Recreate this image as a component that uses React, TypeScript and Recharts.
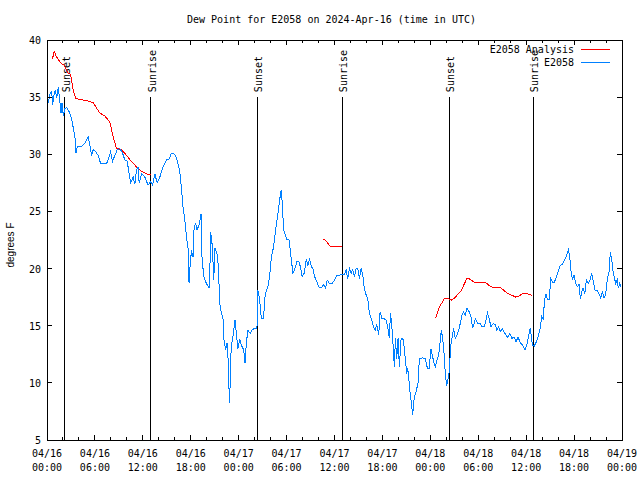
import React from 'react';
import { LineChart, Line, XAxis, YAxis, ReferenceLine, ReferenceArea, Legend } from 'recharts';

const MONO = '"DejaVu Sans Mono", monospace';
const PLOT_W = 575;
const PLOT_H = 400;

// hours since 2024-04-16 00:00 UTC
const xTickHours = [0, 2, 4, 6, 8, 10, 12, 14, 16, 18, 20, 22, 24, 26, 28, 30, 32, 34, 36, 38, 40, 42, 44, 46, 48, 50, 52, 54, 56, 58, 60, 62, 64, 66, 68, 70, 72];
const xTickDates = ['04/16', '04/16', '04/16', '04/16', '04/17', '04/17', '04/17', '04/17', '04/18', '04/18', '04/18', '04/18', '04/19'];
const xTickTimes = ['00:00', '06:00', '12:00', '18:00', '00:00', '06:00', '12:00', '18:00', '00:00', '06:00', '12:00', '18:00', '00:00'];
const yTicks = [5, 10, 15, 20, 25, 30, 35, 40];

const sunLabels = ['Sunset', 'Sunrise', 'Sunset', 'Sunrise', 'Sunset', 'Sunrise'];
const sunHours = [2.25, 13.0, 26.3, 36.95, 50.35, 60.9];

const seriesNames = ['E2058 Analysis', 'E2058'];
const seriesColors = ['#ff0000', '#0080ff'];

const analysisHours = [
  0.66, 0.91, 1.125, 1.71, 2.125, 2.66, 2.96, 3.29, 3.59, 4.125, 4.96, 5.79, 6.625, 7.25, 7.875, 8.29, 8.71,
  9.34, 9.96, 10.59, 11.21, 11.84, 12.46, 12.875, 13.0,
  20,
  34.625, 34.96, 35.375, 35.59, 36.84, 37.0,
  42,
  48.66, 48.91, 49.125, 49.54, 49.75, 50.29, 50.66, 51.0, 51.84, 52.59, 52.875, 53.5, 54.96, 55.59, 56.84,
  57.54, 58.09, 58.71, 59.125, 59.54, 60.16, 60.79,
];
const analysisValues = [
  38.3, 39.0, 38.6, 38.0, 37.8, 37.1, 37.0, 35.6, 34.9, 34.8, 34.7, 34.5, 33.6, 33.35, 32.8, 31.5, 30.5,
  30.4, 29.9, 29.35, 28.9, 28.5, 28.3, 28.2, 28.2,
  null,
  22.6, 22.4, 22.0, 21.95, 21.95, 21.95,
  null,
  15.65, 16.2, 16.65, 17.1, 17.4, 17.35, 17.25, 17.4, 18.05, 19.15, 19.1, 18.8, 18.75, 18.4, 18.3,
  17.9, 17.7, 17.5, 17.6, 17.8, 17.8, 17.65,
];

const e2058Hours = [
  0.16, 0.375, 0.59, 0.71, 0.875, 1.04, 1.21, 1.41, 1.625, 1.75, 1.875, 2.04, 2.25, 2.46, 2.79, 3.09, 3.29, 3.5,
  3.625, 3.79, 4.34, 4.75, 5.16, 5.375, 5.59, 5.79, 6.125, 6.41, 6.71, 7.46, 7.66, 7.96, 8.21, 8.5, 8.79, 9.125,
  9.46, 9.75, 10.04, 10.29, 10.46, 10.79, 11.0, 11.21, 11.41, 11.54, 11.84, 12.25, 12.66, 12.96, 13.21, 13.5,
  13.79, 14.125, 14.54, 14.96, 15.29, 15.59, 16.0, 16.29, 16.625, 16.84, 17.04, 17.25, 17.46, 17.66, 17.79,
  17.875, 18.09, 18.29, 18.41, 18.59, 18.79, 19.04, 19.29, 19.41, 19.625, 19.96, 20.29, 20.375, 20.5, 20.71,
  20.875, 21.04, 21.29, 21.46, 21.625, 21.84, 22.04, 22.16, 22.375, 22.54, 22.71, 22.79, 22.875, 23.0, 23.16,
  23.375, 23.54, 23.71, 23.91, 24.125, 24.34, 24.625, 24.79, 24.96, 25.16, 25.46, 25.66, 26.0, 26.29, 26.41,
  26.625, 26.84, 27.125, 27.25, 27.46, 27.66, 27.875, 28.09, 28.375, 28.625, 28.91, 29.125, 29.34, 29.46,
  29.625, 29.875, 30.04, 30.29, 30.46, 30.625, 30.79, 31.0, 31.29, 31.54, 31.71, 31.96, 32.21, 32.46, 32.66,
  32.875, 33.09, 33.29, 33.5, 33.71, 34.04, 34.34, 34.625, 34.875, 35.09, 35.375, 35.71, 36.0, 36.29, 36.625,
  36.875, 37.25, 37.46, 37.66, 37.875, 38.09, 38.29, 38.5, 38.71, 38.91, 39.125, 39.34, 39.54, 39.75, 39.96,
  40.16, 40.29, 40.46, 40.66, 40.875, 41.09, 41.29, 41.54, 41.71, 41.96, 42.25, 42.46, 42.66, 42.875, 43.0,
  43.16, 43.29, 43.5, 43.625, 43.79, 43.96, 44.125, 44.34, 44.625, 44.84, 45.04, 45.16, 45.29, 45.46, 45.625,
  45.79, 46.0, 46.21, 46.46, 46.625, 47.04, 47.375, 47.625, 47.875, 48.06, 48.25, 48.44, 48.625, 48.84, 49.04,
  49.21, 49.375, 49.54, 49.71, 49.875, 50.04, 50.21, 50.375, 50.54, 50.71, 50.91, 51.125, 51.34, 51.54, 51.75,
  51.96, 52.16, 52.375, 52.59, 52.875, 53.09, 53.29, 53.5, 53.625, 53.91, 54.21, 54.46, 54.75, 54.96, 55.16,
  55.375, 55.59, 55.875, 56.125, 56.34, 56.54, 56.75, 57.04, 57.375, 57.66, 57.96, 58.21, 58.5, 58.71, 59.0,
  59.25, 59.54, 59.84, 60.04, 60.29, 60.5, 60.66, 60.79, 61.0, 61.21, 61.41, 61.71, 61.96, 62.125, 62.29, 62.46,
  62.66, 62.875, 63.09, 63.29, 63.5, 63.71, 64.0, 64.21, 64.54, 64.84, 65.09, 65.29, 65.46, 65.625, 65.79, 66.0,
  66.21, 66.41, 66.625, 66.79, 66.96, 67.125, 67.34, 67.54, 67.79, 68.04, 68.21, 68.375, 68.625, 68.91, 69.125,
  69.34, 69.54, 69.75, 69.96, 70.16, 70.375, 70.54, 70.71, 70.91, 71.21, 71.41, 71.54, 71.71, 71.875,
];
const e2058Values = [
  34.5, 35.3, 35.5, 34.3, 35.2, 35.6, 34.9, 35.9, 34.5, 33.6, 34.5, 33.4, 34.0, 34.1, 33.7, 33.1, 32.3, 31.5,
  30.1, 30.7, 30.7, 31.0, 31.5, 30.8, 29.9, 30.4, 30.2, 29.9, 29.2, 29.2, 29.5, 30.2, 29.4, 29.9, 30.4, 30.5,
  30.1, 29.5, 29.4, 28.3, 27.5, 28.0, 27.4, 28.6, 28.9, 27.5, 28.3, 28.0, 27.3, 27.6, 27.3, 28.3,
  27.5, 28.0, 28.9, 29.5, 29.6, 30.1, 30.0, 29.5, 28.5, 27.0, 25.3, 24.3, 22.8, 21.8, 18.7,
  19.9, 21.6, 21.0, 23.4, 24.0, 23.4, 23.8, 24.8, 21.0, 19.3, 18.7, 18.3, 19.3, 23.2, 21.9,
  19.0, 21.8, 21.3, 20.2, 17.0, 16.1, 15.6, 13.8, 12.9, 13.5, 11.7, 9.5, 8.2, 12.3, 13.5,
  14.5, 15.5, 14.3, 13.0, 13.8, 13.3, 12.9, 11.7, 13.5, 14.6, 14.3, 14.6, 14.8, 14.8, 18.1,
  17.3, 15.6, 15.6, 17.3, 18.1, 18.4, 19.3, 21.0, 21.9, 23.4, 24.8, 26.0, 26.9, 25.7,
  23.4, 22.9, 22.5, 22.6, 21.6, 20.6, 19.6, 19.9, 20.6, 20.6, 20.2, 19.3, 19.6, 20.8, 20.3,
  20.8, 20.2, 20.0, 19.3, 19.0, 18.4, 18.3, 18.6, 18.3, 19.0, 18.7, 18.7, 19.0, 19.4, 19.4,
  19.5, 19.5, 19.9, 19.1, 20.0, 19.6, 19.9, 19.3, 20.0, 20.0, 19.1, 20.0, 19.4, 18.2, 17.7,
  17.4, 16.5, 15.9, 15.5, 14.9, 14.6, 15.1, 14.2, 16.2, 15.6, 15.6, 15.5, 14.9, 13.9, 16.1,
  15.2, 13.8, 11.4, 13.9, 12.1, 13.9, 11.4, 13.9, 13.8, 12.3, 10.8, 11.3, 10.5, 9.2, 8.2,
  7.2, 8.8, 9.2, 10.0, 12.1, 12.2, 12.1, 11.3, 11.3, 13.0, 12.4, 11.8, 11.4, 12.0, 12.4,
  13.5, 14.6, 13.9, 12.6, 10.8, 9.7, 10.3, 11.0, 13.2, 13.9, 14.8, 13.9, 14.2, 14.6, 15.2,
  15.9, 16.2, 15.9, 16.5, 16.2, 15.8, 14.8, 15.2, 15.6, 15.2, 15.2, 14.9, 14.9, 15.5, 16.1,
  15.6, 14.9, 15.2, 15.1, 14.6, 14.9, 14.5, 14.7, 14.3, 14.0, 14.3, 13.9, 14.0, 13.6, 14.0,
  13.5, 13.3, 12.9, 13.2, 14.0, 14.8, 14.0, 13.3, 13.2, 13.5, 13.8, 14.6, 15.8, 15.6, 17.1, 17.8,
  17.3, 17.3, 19.1, 18.8, 18.8, 19.1, 19.7, 20.2, 20.4, 20.8, 21.2, 21.6, 21.0, 19.7, 19.1, 19.4,
  18.7, 18.4, 18.6, 17.3, 18.0, 18.3, 17.8, 19.0, 18.7, 19.1, 19.6, 19.0, 18.1, 18.1, 17.8,
  17.4, 18.0, 17.4, 17.8, 19.1, 19.7, 21.4, 20.8, 19.6, 18.7, 19.0, 18.3, 18.7, 18.4,
];

const analysisData = analysisHours.map((h, i) => ({ h, v: analysisValues[i] }));
const e2058Data = e2058Hours.map((h, i) => ({ h, v: e2058Values[i] }));

function XTick({ x, y, payload }: any) {
  const h = payload.value;
  const major = h % 6 === 0;
  const len = major ? 5 : 3;
  const i = h / 6;
  return (
    <g>
      <line x1={x} x2={x} y1={y} y2={y - len} stroke='#000' shapeRendering='crispEdges' />
      <line x1={x} x2={x} y1={y - PLOT_H} y2={y - PLOT_H + len} stroke='#000' shapeRendering='crispEdges' />
      {major && (
        <text x={x} y={y} textAnchor='middle' fontFamily={MONO} fontSize={10} fill='#000'>
          <tspan x={x} dy={17}>{xTickDates[i]}</tspan>
          <tspan x={x} dy={14}>{xTickTimes[i]}</tspan>
        </text>
      )}
    </g>
  );
}

function YTick({ x, y, payload }: any) {
  return (
    <g>
      <line x1={x} x2={x + 5} y1={y} y2={y} stroke='#000' shapeRendering='crispEdges' />
      <line x1={x + PLOT_W - 5} x2={x + PLOT_W} y1={y} y2={y} stroke='#000' shapeRendering='crispEdges' />
      <text x={x - 6} y={y + 4} textAnchor='end' fontFamily={MONO} fontSize={10} fill='#000'>
        {payload.value}
      </text>
    </g>
  );
}

function SunMarker({ x1, y1, y2, text }: any) {
  const top = Math.min(y1, y2);
  const bottom = Math.max(y1, y2);
  return (
    <g>
      <line x1={x1} x2={x1} y1={top} y2={bottom} stroke='#000' shapeRendering='crispEdges' />
      <text
        transform={`translate(${x1 + 5},${top - 5}) rotate(-90)`}
        fontFamily={MONO}
        fontSize={10}
        fill='#000'
      >
        {text}
      </text>
    </g>
  );
}

function LegendBox() {
  return (
    <svg width={160} height={30} style={{ display: 'block' }}>
      {seriesNames.map((name, i) => (
        <g key={name}>
          <text x={114} y={13 + i * 13} textAnchor='end' fontFamily={MONO} fontSize={10} fill='#000'>
            {name}
          </text>
          <line x1={121} x2={150} y1={9.5 + i * 13} y2={9.5 + i * 13} stroke={seriesColors[i]} shapeRendering='crispEdges' />
        </g>
      ))}
    </svg>
  );
}

export default function App() {
  return (
    <div style={{ position: 'absolute', left: 0, top: 0, width: 640, height: 480, background: '#fff' }}>
      <div
        style={{
          position: 'absolute',
          left: 0,
          top: 14,
          width: 663,
          textAlign: 'center',
          fontFamily: MONO,
          fontSize: 10,
          lineHeight: '12px',
          whiteSpace: 'pre',
        }}
      >
        Dew Point for E2058 on 2024-Apr-16 (time in UTC)
      </div>
      <div
        style={{
          position: 'absolute',
          left: 11,
          top: 245,
          transform: 'translate(-50%, -50%) rotate(-90deg)',
          fontFamily: '"Liberation Sans", Arial, sans-serif',
          fontSize: 10,
          lineHeight: '12px',
          whiteSpace: 'pre',
        }}
      >
        degrees F
      </div>
      <LineChart width={640} height={480} margin={{ top: 40, right: 18, bottom: 0, left: 0 }}>
        <XAxis
          type='number'
          dataKey='h'
          domain={[0, 72]}
          ticks={xTickHours}
          allowDataOverflow
          interval={0}
          height={40}
          axisLine={false}
          tickLine={false}
          tickSize={0}
          tickMargin={0}
          tick={<XTick />}
        />
        <YAxis
          type='number'
          domain={[5, 40]}
          ticks={yTicks}
          allowDataOverflow
          interval={0}
          width={47}
          axisLine={false}
          tickLine={false}
          tickSize={0}
          tickMargin={0}
          tick={<YTick />}
        />
        <ReferenceArea x1={0} x2={72} y1={5} y2={40} fill='none' stroke='#000' shapeRendering='crispEdges' ifOverflow='visible' />
        {sunHours.map((h, i) => (
          <ReferenceLine
            key={i}
            segment={[{ x: h, y: 5 }, { x: h, y: 35 }]}
            shape={(p: any) => <SunMarker {...p} text={sunLabels[i]} />}
          />
        ))}
        <Line
          data={analysisData}
          dataKey='v'
          name={seriesNames[0]}
          type='linear'
          stroke={seriesColors[0]}
          strokeWidth={1}
          shapeRendering='crispEdges'
          dot={false}
          activeDot={false}
          isAnimationActive={false}
        />
        <Line
          data={e2058Data}
          dataKey='v'
          name={seriesNames[1]}
          type='linear'
          stroke={seriesColors[1]}
          strokeWidth={1}
          shapeRendering='crispEdges'
          dot={false}
          activeDot={false}
          isAnimationActive={false}
        />
        <Legend
          layout='vertical'
          align='center'
          verticalAlign='middle'
          content={() => <LegendBox />}
          wrapperStyle={{ position: 'absolute', left: 460, top: 40, width: 160, height: 30 }}
        />
      </LineChart>
    </div>
  );
}
